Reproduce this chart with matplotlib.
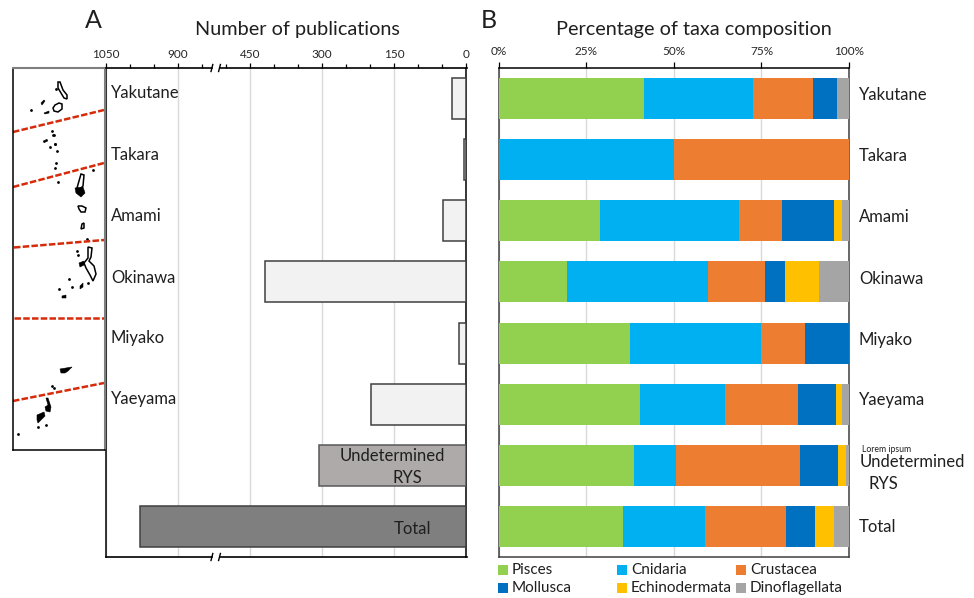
import numpy as np
import matplotlib
matplotlib.use('Agg')
import matplotlib.pyplot as plt
from matplotlib.lines import Line2D
from matplotlib.patches import Rectangle, Polygon

plt.rcParams['font.family'] = ['Lato', 'DejaVu Sans']

W, H = 974, 598

# row names, top to bottom
regions = ['Yakutane', 'Takara', 'Amami', 'Okinawa', 'Miyako', 'Yaeyama', 'Undetermined RYS', 'Total']

# panel A
publications = [29, 4, 48, 419, 15, 198, 306, 979]
pub_major = [1050, 900, 450, 300, 150, 0]
pub_minor = [1000, 950, 750, 600, 400, 350, 250, 200, 100, 50]

# panel B, percent of taxa
taxa = ['Pisces', 'Cnidaria', 'Crustacea', 'Mollusca', 'Echinodermata', 'Dinoflagellata']
pisces = [41.4, 0, 29.0, 19.4, 37.4, 40.2, 38.5, 35.3]
cnidaria = [31.1, 50, 39.5, 40.3, 37.4, 24.3, 12.2, 23.6]
crustacea = [17.2, 50, 12.5, 16.2, 12.5, 20.9, 35.3, 23.1]
mollusca = [6.9, 0, 14.6, 5.7, 12.7, 10.8, 11.0, 8.4]
echinodermata = [0, 0, 2.3, 9.7, 0, 1.7, 2.2, 5.2]
dinoflagellata = [3.4, 0, 2.1, 8.7, 0, 2.1, 0.8, 4.4]
taxa_colors = ['#92d050', '#00b0f0', '#ed7d31', '#0070c0', '#ffc000', '#a5a5a5']


def rect(l, t, r, b):
    return [l / W, 1 - b / H, (r - l) / W, (b - t) / H]


def fx(px):
    return px / W


def fy(py):
    return 1 - py / H


def ftext(px, py, s, size, **kw):
    kw.setdefault('va', 'center')
    kw.setdefault('color', '#1f1f1f')
    fig.text(fx(px), fy(py), s, fontsize=size, **kw)


def fline(xs, ys, color='black', lw=1.2):
    fig.add_artist(Line2D([fx(v) for v in xs], [fy(v) for v in ys], color=color, lw=lw))


fig = plt.figure(figsize=(W / 100, H / 100), dpi=100)
rows = np.arange(len(regions)) + 0.5
bar_h = 41 / 61.1

# ---- panel A, broken axis
breaks_in = [0, 450, 900, 1050]
breaks_out = [0, 450, 600, 750]


def forward(v):
    return np.interp(v, breaks_in, breaks_out)


def inverse(v):
    return np.interp(v, breaks_out, breaks_in)


axa = fig.add_axes(rect(106, 68, 466.3, 557))
axa.set_xscale('function', functions=(forward, inverse))
axa.set_xlim(1050, 0)
axa.set_ylim(8, 0)
face_a = ['#f2f2f2'] * 6 + ['#aeaaaa', '#7f7f7f']
edge_a = ['#404040'] * 6 + ['#595959', '#404040']
axa.barh(rows, publications, height=bar_h, color=face_a, edgecolor=edge_a, linewidth=1.1, zorder=3)
axa.set_xticks(pub_major)
axa.set_xticks(pub_minor, minor=True)
axa.set_xticklabels([str(v) for v in pub_major], fontsize=8.5, color='#262626')
axa.xaxis.tick_top()
axa.tick_params(axis='x', which='major', length=3.5, width=0.9, pad=2.5)
axa.tick_params(axis='x', which='minor', length=3, width=0.9)
axa.set_yticks([])
axa.set_axisbelow(True)
axa.grid(axis='x', which='major', color='#d9d9d9', lw=1)
for s in ['top', 'bottom']:
    axa.spines[s].set_visible(False)
for s in ['left', 'right']:
    axa.spines[s].set_linewidth(1.1)

# axis lines with the break marks
for py in [68, 557]:
    fline([106, 211.5], [py, py])
    fline([219.5, 466.8], [py, py])
    fline([211, 212.8], [py + 3.5, py - 3.5], lw=1)
    fline([218.6, 220.4], [py + 3.5, py - 3.5], lw=1)

# ---- panel B
axb = fig.add_axes(rect(499, 68, 849, 557))
axb.set_xlim(0, 100)
axb.set_ylim(8, 0)
left = np.zeros(len(regions))
series = [pisces, cnidaria, crustacea, mollusca, echinodermata, dinoflagellata]
for vals, c, name in zip(series, taxa_colors, taxa):
    axb.barh(rows, vals, left=left, height=bar_h, color=c, label=name, zorder=3)
    left = left + np.array(vals)
axb.set_xticks([0, 25, 50, 75, 100])
axb.set_xticklabels(['0%', '25%', '50%', '75%', '100%'], fontsize=8.5, color='#262626')
axb.xaxis.tick_top()
axb.tick_params(axis='x', length=4, width=0.9, pad=4)
axb.set_yticks([])
axb.set_axisbelow(True)
axb.grid(axis='x', color='#d9d9d9', lw=1)
for s in axb.spines.values():
    s.set_linewidth(1.1)
    s.set_color('#404040')
axb.spines['top'].set_color('black')

# ---- titles
ftext(85, 21, 'A', 18)
ftext(481, 20, 'B', 18)
ftext(195, 29, 'Number of publications', 14.3)
ftext(556, 29, 'Percentage of taxa composition', 14.3)

# ---- row labels
left_y = [93, 155, 216, 278, 338, 399]
right_y = [95, 156, 217, 279, 340, 400]
for name, py in zip(regions[:6], left_y):
    ftext(111, py, name, 12)
for name, py in zip(regions[:6], right_y):
    ftext(859, py, name, 12)
ftext(392, 456, 'Undetermined', 12, ha='center')
ftext(407, 478, 'RYS', 12, ha='center')
ftext(413, 529, 'Total', 12, ha='center')
ftext(862, 449, 'Lorem ipsum', 6.2)
ftext(860, 462, 'Undetermined', 12)
ftext(868, 484, 'RYS', 12)
ftext(859, 527, 'Total', 12)

# ---- legend
legend_x = [498, 617, 736, 498, 617, 736]
legend_y = [570, 570, 570, 588, 588, 588]
for name, c, lx, ly in zip(taxa, taxa_colors, legend_x, legend_y):
    fig.add_artist(Rectangle((fx(lx), fy(ly + 5)), 10 / W, 10 / H, color=c, lw=0,
                             transform=fig.transFigure))
    ftext(lx + 14, ly, name, 11)

# ---- map of the islands, in pixels of the picture
axm = fig.add_axes(rect(12.5, 68, 104.5, 449.5))
axm.set_xlim(12.5, 104.5)
axm.set_ylim(449.5, 68)
axm.set_xticks([])
axm.set_yticks([])
for s in ['left', 'bottom']:
    axm.spines[s].set_linewidth(1.1)
axm.spines['top'].set_color('#7f7f7f')
axm.spines['top'].set_linewidth(1.5)
axm.spines['right'].set_color('#7f7f7f')
axm.spines['right'].set_linewidth(1.5)

borders = [((13, 132), (104, 110)), ((13, 187), (104, 163)), ((14, 247.5), (104, 240)),
           ((14, 318), (104, 318)), ((13, 401), (104, 383))]
for a, b in borders:
    axm.plot([a[0], b[0]], [a[1], b[1]], color='#d62a0a', lw=1.8, dashes=(2.6, 0.9))

outlines = [
    [(58, 82), (60, 82), (63, 90), (67, 95), (67, 99), (64, 98), (61, 93), (58, 88)],
    [(55, 105), (59, 103), (62, 104), (62, 109), (58, 112), (54, 111), (53, 108)],
    [(78, 206), (82, 206), (86, 208), (85, 212), (81, 212), (79, 209)],
    [(88, 247), (92, 248), (91, 257), (89, 261), (94, 266), (96, 274), (93, 281), (90, 275), (86, 268), (84, 263), (88, 258)],
    [(82, 224), (84, 223), (84, 228), (81, 229)],
    [(81, 174), (84, 175), (83, 186), (80, 189), (77, 188)],
]
for pts in outlines:
    axm.add_patch(Polygon(pts, closed=True, fc='white', ec='black', lw=1.1))

solids = [
    [(75, 188), (83, 187), (85, 193), (81, 197), (76, 193)],
    [(60, 369), (66, 368), (72, 367), (68, 371), (65, 373), (61, 373)],
    [(46, 398), (48, 398), (51, 407), (50, 412), (46, 411), (45, 407), (48, 405)],
    [(37, 415), (44, 412), (45, 416), (40, 421), (38, 423), (37, 420)],
    [(79, 263), (84, 261), (84, 265), (80, 267)],
    [(80, 286), (83, 283), (83, 287), (80, 289)],
    [(62, 296), (66, 295), (66, 298), (62, 298)],
    [(44, 113), (49, 111), (49, 113), (45, 114)],
    [(41, 103), (44, 100), (45, 101), (42, 105)],
]
for pts in solids:
    axm.add_patch(Polygon(pts, closed=True, fc='black', ec='black', lw=0.4))

# tiny islets
islet_x = [31, 56, 52, 54, 44, 46, 50, 55, 57, 56, 55, 58, 93, 87, 69, 72, 59, 88, 77, 78, 52, 54, 46, 38, 18, 53, 55]
islet_y = [110, 89, 131, 135, 141, 140, 147, 144, 151, 163, 168, 182, 170, 239, 279, 287, 289, 283, 251, 255, 386, 388, 425, 427, 434, 135, 144]
axm.scatter(islet_x, islet_y, s=4, color='black', lw=0)

fig.savefig('out.png', dpi=100)
